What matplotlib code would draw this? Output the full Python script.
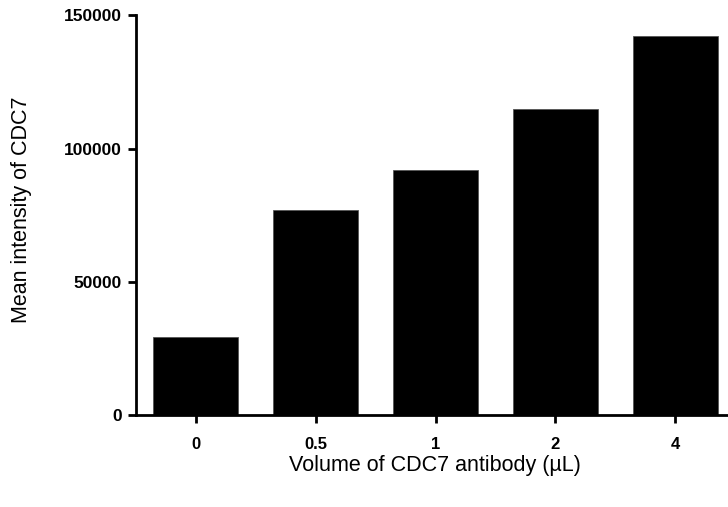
import matplotlib
matplotlib.use("Agg")
import matplotlib.pyplot as plt

# Mean CDC7 signal for each antibody volume
volumes = ["0", "0.5", "1", "2", "4"]
mean_intensity = [29200, 77000, 92000, 115000, 142300]
y_ticks = [0, 50000, 100000, 150000]

plt.rcParams["font.family"] = ["Liberation Sans", "DejaVu Sans"]

W, H = 728, 507
fig = plt.figure(figsize=(W / 100, H / 100), dpi=100)
ax = fig.add_axes([136 / W, (H - 415) / H, (735 - 136) / W, (415 - 15.5) / H])

x = list(range(len(volumes)))
ax.bar(x, mean_intensity, width=0.71, color="black", edgecolor="#555555",
       linewidth=0.6)

ax.set_xlim(-0.5, len(volumes) - 0.5)
ax.set_ylim(0, 150000)
ax.set_yticks(y_ticks)
ax.set_yticklabels([str(v) for v in y_ticks], fontweight="bold", fontsize=12.5)
ax.set_xticks(x)
ax.set_xticklabels(volumes, fontweight="bold", fontsize=12)

for side in ("top", "right"):
    ax.spines[side].set_visible(False)
for side in ("left", "bottom"):
    ax.spines[side].set_linewidth(2.0)
    ax.spines[side].set_color("black")
ax.spines["bottom"].set_capstyle("projecting")
ax.tick_params(axis="both", width=2.0, length=6, color="black")
ax.tick_params(axis="y", pad=4)
ax.tick_params(axis="x", pad=10)

fig.text(22 / W, 1 - 210 / H, "Mean intensity of CDC7", rotation=90,
         ha="center", va="center", fontsize=15.5)
fig.text(435 / W, 1 - 466 / H, "Volume of CDC7 antibody (\u00b5L)",
         ha="center", va="center", fontsize=15.5)

fig.savefig("out.png", dpi=100)
